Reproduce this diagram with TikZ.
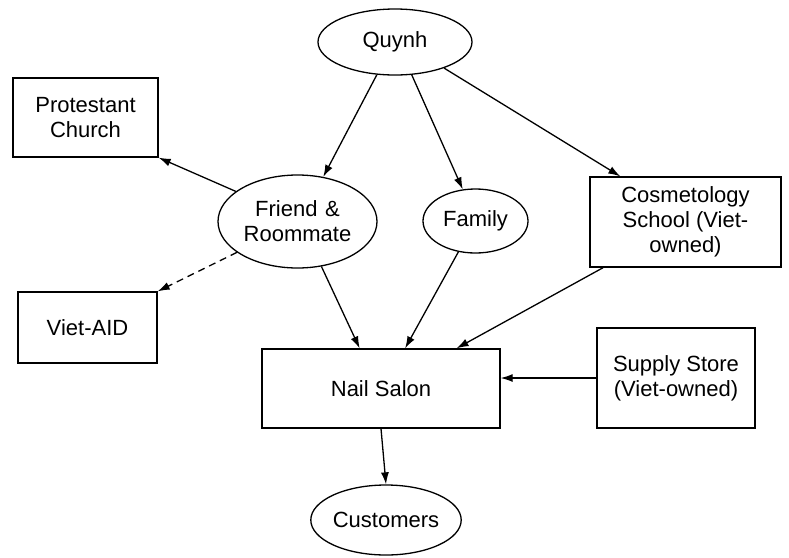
\documentclass[tikz,border=0pt]{standalone}
\usepackage{fontspec}
\setmainfont{Liberation Sans}
\usetikzlibrary{shapes.geometric,arrows.meta}

\begin{document}
\begin{tikzpicture}[x=1pt,y=-1pt,line width=1.3pt,
  font=\fontsize{22}{25}\selectfont,
  box/.style={draw,rectangle,align=center,inner sep=0pt},
  oval/.style={draw,ellipse,align=center,inner sep=0pt},
  >={Latex[length=12pt,width=8pt]}]
\useasboundingbox (0,0) rectangle (789,557);
\node[oval,minimum width=154,minimum height=66] (quynh)at(395,42){Quynh};
\node[box,minimum width=145,minimum height=79] (church)at(85.5,117.5){Protestant\\Church};
\node[oval,minimum width=159,minimum height=93] (friend)at(297.5,221.5){Friend\hspace{.35em}\&\\Roommate};
\node[oval,minimum width=105,minimum height=64] (family)at(475.5,221){Family};
\node[box,minimum width=191,minimum height=90] (school)at(685.5,222){Cosmetology\\School (Viet-\\owned)};
\node[box,minimum width=139,minimum height=71] (vietaid)at(87.5,327.5){Viet-AID};
\node[box,minimum width=238,minimum height=79] (salon)at(381,388.5){Nail Salon};
\node[box,minimum width=158,minimum height=100] (supply)at(676,378){Supply Store\\(Viet-owned)};
\node[oval,minimum width=148,minimum height=70] (cust)at(386,520){Customers};
\draw[->] (quynh.-119) to (friend.60);
\draw[->] (quynh.-63) to (family.112);
\draw[->] (quynh.-28) to (school.145);
\draw[->] (friend.154) to (church.south east);
\draw[->,dash pattern=on 7pt off 5pt] (friend.207) to (vietaid.north east);
\draw[->] (friend.-62) to (salon.118);
\draw[->] (family.-119) to (salon.59);
\draw[->] (school.-151) to (salon.28);
\draw[->] (supply.west) to (supply.west -| salon.east);
\draw[->] (salon.south) to (cust.north);
\end{tikzpicture}
\end{document}
